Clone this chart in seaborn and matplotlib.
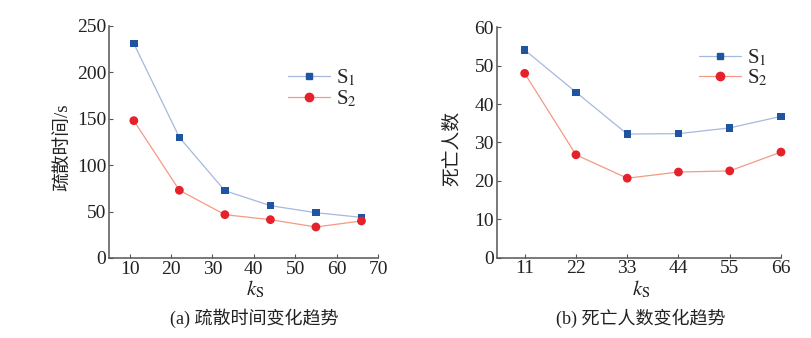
import matplotlib
matplotlib.use("Agg")
import matplotlib.pyplot as plt
import seaborn as sns
import pandas as pd
from matplotlib.lines import Line2D

# data
ks = [11, 22, 33, 44, 55, 66]
evac_s1 = [231, 130, 72.5, 56.4, 48.8, 43.8]
evac_s2 = [148, 73, 46.7, 41.3, 33.4, 39.9]
death_s1 = [54.1, 43.1, 32.2, 32.3, 33.8, 36.8]
death_s2 = [48.0, 26.8, 20.7, 22.3, 22.6, 27.5]
series = ["S1", "S2"]
series_labels = [r"S$_1$", r"S$_2$"]
left_xticks = [10, 20, 30, 40, 50, 60, 70]
left_yticks = [0, 50, 100, 150, 200, 250]
right_xticks = [11, 22, 33, 44, 55, 66]
right_yticks = [0, 10, 20, 30, 40, 50, 60]

sns.set_theme(style="ticks")
plt.rcParams["font.family"] = ["Liberation Serif", "Noto Sans CJK SC", "DejaVu Sans"]
plt.rcParams["mathtext.fontset"] = "stix"

marker_colors = {"S1": "#1f55a0", "S2": "#e5212b"}
line_colors = {"S1": "#a6b8de", "S2": "#f29a85"}
markers = {"S1": "s", "S2": "o"}
msizes = {"S1": 28, "S2": 40}
axis_col = "#555555"

fig = plt.figure(figsize=(8.11, 3.38), dpi=100)
ax1 = fig.add_axes([0.1344, 0.2367, 0.3317, 0.6864])
ax2 = fig.add_axes([0.6125, 0.2377, 0.3505, 0.6815])

def make_df(a, b):
    return pd.DataFrame({"k": ks * 2, "v": a + b, "s": ["S1"] * len(ks) + ["S2"] * len(ks)})

df1 = make_df(evac_s1, evac_s2)
df2 = make_df(death_s1, death_s2)

for ax, df in [(ax1, df1), (ax2, df2)]:
    sns.lineplot(data=df, x="k", y="v", hue="s", palette=line_colors, lw=0.9,
                 legend=False, ax=ax)
    for s in series:
        sub = df[df.s == s]
        sns.scatterplot(x=sub.k, y=sub.v, color=marker_colors[s], marker=markers[s],
                        s=msizes[s], edgecolor="none", legend=False, ax=ax, zorder=3,
                        clip_on=False)
    sns.despine(ax=ax)
    for sp in ["left", "bottom"]:
        ax.spines[sp].set_color(axis_col)
        ax.spines[sp].set_linewidth(1.1)
    ax.tick_params(direction="in", length=3, width=0.8, color=axis_col,
                   labelsize=14, pad=2, labelcolor="#222222")
    ax.set_xlabel("")
    ax.set_ylabel("")

ax1.set_xlim(5, 70)
ax1.set_ylim(0, 250)
ax1.set_xticks(left_xticks)
ax1.set_yticks(left_yticks)
ax2.set_xlim(5, 66)
ax2.set_ylim(0, 60)
ax2.set_xticks(right_xticks)
ax2.set_yticks(right_yticks)

handles = [Line2D([0], [0], color=line_colors[s], lw=0.9, marker=markers[s],
                  markerfacecolor=marker_colors[s], markeredgecolor=marker_colors[s],
                  markersize=5 if s == "S1" else 6) for s in series]
leg_kw = dict(frameon=False, fontsize=15, handlelength=2.0, handletextpad=0.3,
              labelspacing=0.0, borderaxespad=0, borderpad=0)
ax1.legend(handles, series_labels, loc="upper left", bbox_to_anchor=(0.355, 0.80),
           bbox_transform=fig.transFigure, **leg_kw)
ax2.legend(handles, series_labels, loc="upper left", bbox_to_anchor=(0.862, 0.86),
           bbox_transform=fig.transFigure, **leg_kw)

tc = "#222222"
fig.text(63 / 811, 1 - 147 / 338, "疏散时间/s", rotation=90, ha="center", va="center",
         fontsize=13.5, color=tc)
fig.text(452 / 811, 1 - 148 / 338, "死亡人数", rotation=90, ha="center", va="center",
         fontsize=13.5, color=tc)
fig.text(255 / 811, 1 - 289 / 338, r"$k_{\mathrm{S}}$", ha="center", va="center",
         fontsize=15, color=tc)
fig.text(641 / 811, 1 - 289 / 338, r"$k_{\mathrm{S}}$", ha="center", va="center",
         fontsize=15, color=tc)
fig.text(254 / 811, 1 - 318 / 338, "(a) 疏散时间变化趋势", ha="center", va="center",
         fontsize=13, color=tc)
fig.text(641 / 811, 1 - 318 / 338, "(b) 死亡人数变化趋势", ha="center", va="center",
         fontsize=13, color=tc)

fig.savefig("out.png", dpi=100, facecolor="white")
